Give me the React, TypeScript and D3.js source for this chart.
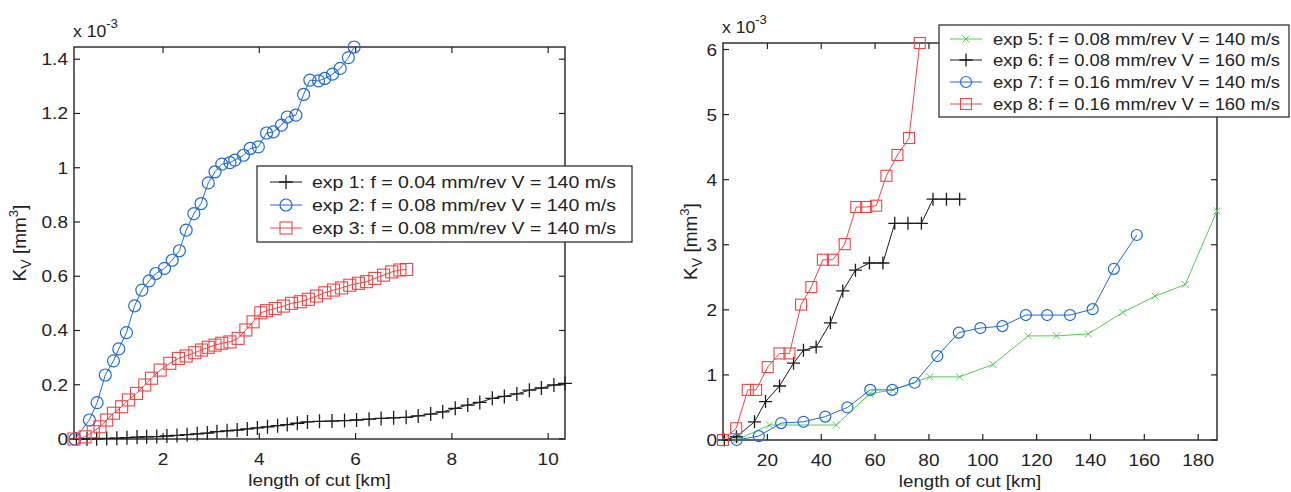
import React from 'react';
import * as d3 from 'd3';

// ---- Left panel: wear volume vs length of cut (units of 1e-3 mm^3) ----
const exp1X = [0.2, 0.42, 0.62, 0.83, 1.04, 1.25, 1.46, 1.66, 1.87, 2.08, 2.29, 2.5, 2.71, 2.92, 3.12, 3.33, 3.54, 3.75, 3.96, 4.17, 4.38, 4.58, 4.79, 5.0, 5.25, 5.51, 5.77, 6.02, 6.28, 6.53, 6.79, 7.05, 7.3, 7.56, 7.81, 8.07, 8.33, 8.58, 8.84, 9.09, 9.35, 9.61, 9.86, 10.12, 10.35];
const exp1Y = [0, 0, 0.001, 0.002, 0.003, 0.005, 0.007, 0.008, 0.009, 0.011, 0.013, 0.016, 0.019, 0.022, 0.027, 0.03, 0.033, 0.037, 0.041, 0.045, 0.049, 0.053, 0.058, 0.063, 0.065, 0.066, 0.068, 0.07, 0.073, 0.076, 0.078, 0.08, 0.085, 0.092, 0.1, 0.113, 0.125, 0.135, 0.15, 0.157, 0.166, 0.18, 0.188, 0.199, 0.205];

const exp2X = [0.17, 0.47, 0.63, 0.8, 0.97, 1.08, 1.24, 1.41, 1.56, 1.71, 1.85, 2.03, 2.19, 2.34, 2.48, 2.64, 2.79, 2.94, 3.08, 3.22, 3.39, 3.49, 3.67, 3.81, 3.98, 4.15, 4.29, 4.46, 4.58, 4.76, 4.92, 5.05, 5.23, 5.36, 5.52, 5.68, 5.85, 5.97];
const exp2Y = [0, 0.07, 0.134, 0.236, 0.288, 0.332, 0.392, 0.491, 0.549, 0.583, 0.61, 0.629, 0.659, 0.694, 0.77, 0.831, 0.868, 0.944, 0.985, 1.013, 1.019, 1.028, 1.046, 1.071, 1.077, 1.128, 1.132, 1.157, 1.187, 1.194, 1.27, 1.323, 1.32, 1.329, 1.345, 1.366, 1.406, 1.445];

const exp3X = [0.15, 0.38, 0.55, 0.69, 0.83, 0.97, 1.14, 1.28, 1.45, 1.62, 1.76, 1.94, 2.14, 2.32, 2.48, 2.66, 2.8, 2.94, 3.08, 3.22, 3.39, 3.56, 3.72, 3.87, 4.03, 4.15, 4.33, 4.5, 4.67, 4.85, 5.02, 5.19, 5.36, 5.54, 5.71, 5.88, 6.06, 6.23, 6.4, 6.58, 6.75, 6.92, 7.06];
const exp3Y = [0, 0.008, 0.027, 0.045, 0.07, 0.095, 0.119, 0.144, 0.168, 0.199, 0.224, 0.254, 0.279, 0.297, 0.306, 0.318, 0.328, 0.338, 0.346, 0.353, 0.358, 0.371, 0.402, 0.432, 0.465, 0.473, 0.481, 0.49, 0.5, 0.506, 0.515, 0.527, 0.539, 0.549, 0.557, 0.567, 0.574, 0.58, 0.592, 0.604, 0.616, 0.623, 0.625];

// ---- Right panel ----
const exp5X = [8.4, 20.8, 45.6, 58.0, 66.6, 80.3, 91.4, 103.8, 116.9, 127.4, 139.2, 152.0, 164.0, 175.2, 187.0];
const exp5Y = [0, 0.23, 0.23, 0.71, 0.77, 0.97, 0.97, 1.16, 1.6, 1.6, 1.63, 1.96, 2.21, 2.39, 3.52];

const exp6X = [4.0, 8.5, 15.2, 19.3, 24.5, 29.7, 33.4, 38.1, 43.4, 48.0, 52.7, 57.9, 62.9, 67.3, 72.2, 77.2, 81.5, 86.5, 91.4];
const exp6Y = [0, 0.05, 0.28, 0.59, 0.83, 1.18, 1.38, 1.43, 1.8, 2.29, 2.61, 2.72, 2.72, 3.33, 3.33, 3.33, 3.7, 3.7, 3.7];

const exp7X = [8.6, 16.8, 25.1, 33.4, 41.5, 49.7, 58.2, 66.4, 74.7, 83.1, 91.1, 99.1, 107.3, 116.0, 123.9, 132.4, 140.8, 148.7, 157.2];
const exp7Y = [0, 0.06, 0.26, 0.28, 0.36, 0.5, 0.77, 0.77, 0.88, 1.29, 1.65, 1.72, 1.75, 1.92, 1.92, 1.92, 2.01, 2.63, 3.15];

const exp8X = [3.5, 8.4, 12.7, 15.8, 20.1, 24.5, 28.2, 32.5, 36.3, 40.6, 44.3, 48.7, 53.0, 56.7, 60.4, 64.2, 68.3, 72.6, 76.6];
const exp8Y = [0, 0.18, 0.77, 0.77, 1.12, 1.33, 1.33, 2.08, 2.35, 2.77, 2.77, 3.01, 3.58, 3.58, 3.6, 4.06, 4.38, 4.64, 6.1];

// ---- Tick values / labels ----
const leftXTicks = [2, 4, 6, 8, 10];
const leftYTicks = [0, 0.2, 0.4, 0.6, 0.8, 1, 1.2, 1.4];
const rightXTicks = [20, 40, 60, 80, 100, 120, 140, 160, 180];
const rightYTicks = [0, 1, 2, 3, 4, 5, 6];

const leftLabels = [
  'exp 1: f = 0.04 mm/rev V = 140 m/s',
  'exp 2: f = 0.08 mm/rev V = 140 m/s',
  'exp 3: f = 0.08 mm/rev V = 140 m/s',
];
const rightLabels = [
  'exp 5: f = 0.08 mm/rev V = 140 m/s',
  'exp 6: f = 0.08 mm/rev V = 160 m/s',
  'exp 7: f = 0.16 mm/rev V = 140 m/s',
  'exp 8: f = 0.16 mm/rev V = 160 m/s',
];

const FONT = "'Liberation Sans', Arial, Helvetica, sans-serif";
const BLACK = '#1c1c1c';
const BLUE = '#1f6ad8';
const RED = '#f04444';
const GREEN = '#55cc55';
const AXIS = '#222';

type Kind = 'plus' | 'circle' | 'square' | 'x';
interface Series {
  label: string;
  xs: number[];
  ys: number[];
  color: string;
  kind: Kind;
  size: number;
}

function Marker({ kind, x, y, color, s }: { kind: Kind; x: number; y: number; color: string; s: number }) {
  if (kind === 'plus')
    return <path d={`M${x - s},${y}H${x + s}M${x},${y - s}V${y + s}`} stroke={color} strokeWidth={1.3} fill="none" />;
  if (kind === 'circle') return <circle cx={x} cy={y} r={s} stroke={color} strokeWidth={1.2} fill="none" />;
  if (kind === 'square')
    return <rect x={x - s} y={y - s} width={2 * s} height={2 * s} stroke={color} strokeWidth={1.1} fill="none" />;
  return (
    <path d={`M${x - s},${y - s}L${x + s},${y + s}M${x - s},${y + s}L${x + s},${y - s}`} stroke={color} strokeWidth={1} fill="none" />
  );
}

function STxt({ x, y, children, anchor = 'start', size = 17, sx = 1.12 }: any) {
  return (
    <text transform={`translate(${x},${y}) scale(${sx},1)`} textAnchor={anchor} fontSize={size} fill={AXIS} fontFamily={FONT}>
      {children}
    </text>
  );
}

interface PanelProps {
  box: { left: number; top: number; right: number; bottom: number };
  series: Series[];
  xTicks: number[];
  yTicks: number[];
  legend: { x: number; y: number; w: number; h: number; rowY: number[]; lineX: [number, number]; textX: number; textLen: number };
  ylabelX: number;
}

function Panel({ box, series, xTicks, yTicks, legend, ylabelX }: PanelProps) {
  const allX = series.flatMap((s) => s.xs);
  const allY = series.flatMap((s) => s.ys);
  const x = d3.scaleLinear().domain(d3.extent(allX) as [number, number]).range([box.left, box.right]);
  const y = d3.scaleLinear().domain([0, d3.max(allY) as number]).range([box.bottom, box.top]);
  const line = d3
    .line<[number, number]>()
    .x((d) => x(d[0]))
    .y((d) => y(d[1]));
  const tl = 6;
  const cx = (box.left + box.right) / 2;
  const cy = (box.top + box.bottom) / 2;
  return (
    <g>
      {/* axes box with inward ticks on all four sides */}
      <rect x={box.left} y={box.top} width={box.right - box.left} height={box.bottom - box.top} fill="none" stroke={AXIS} strokeWidth={1.4} />
      {xTicks.map((t) => (
        <g key={'xt' + t}>
          <line x1={x(t)} x2={x(t)} y1={box.bottom} y2={box.bottom - tl} stroke={AXIS} strokeWidth={1.2} />
          <line x1={x(t)} x2={x(t)} y1={box.top} y2={box.top + tl} stroke={AXIS} strokeWidth={1.2} />
          <STxt x={x(t)} y={box.bottom + 26} anchor="middle">{String(t)}</STxt>
        </g>
      ))}
      {yTicks.map((t) => (
        <g key={'yt' + t}>
          <line x1={box.left} x2={box.left + tl} y1={y(t)} y2={y(t)} stroke={AXIS} strokeWidth={1.2} />
          <line x1={box.right} x2={box.right - tl} y1={y(t)} y2={y(t)} stroke={AXIS} strokeWidth={1.2} />
          <STxt x={box.left - 6} y={y(t) + 6} anchor="end">{String(t)}</STxt>
        </g>
      ))}
      {/* exponent multiplier */}
      <text transform={`translate(${box.left - 1},${box.top - 10}) scale(1.1,1)`} fontSize={16} fill={AXIS} fontFamily={FONT}>
        x 10<tspan dy={-9} fontSize={12}>-3</tspan>
      </text>
      {/* axis labels */}
      <STxt x={cx} y={box.bottom + 47} anchor="middle" size={17} sx={1.1}>length of cut [km]</STxt>
      <text transform={`translate(${ylabelX},${cy}) rotate(-90)`} textAnchor="middle" fontSize={19} fill={AXIS} fontFamily={FONT}>
        K<tspan dy={5} fontSize={14}>V</tspan>
        <tspan dy={-5}> [mm</tspan>
        <tspan dy={-8} fontSize={13}>3</tspan>
        <tspan dy={8}>]</tspan>
      </text>
      {/* data series */}
      {series.map((s, si) => {
        const pts = s.xs.map((v, i) => [v, s.ys[i]] as [number, number]);
        return (
          <g key={'s' + si}>
            <path d={line(pts) || ''} fill="none" stroke={s.color} strokeWidth={1} />
            {pts.map((p, i) => (
              <Marker key={i} kind={s.kind} x={x(p[0])} y={y(p[1])} color={s.color} s={s.size} />
            ))}
          </g>
        );
      })}
      {/* legend */}
      <rect x={legend.x} y={legend.y} width={legend.w} height={legend.h} fill="#fff" stroke={AXIS} strokeWidth={1.2} />
      {series.map((s, i) => {
        const ry = legend.rowY[i];
        const mx = (legend.lineX[0] + legend.lineX[1]) / 2;
        return (
          <g key={'lg' + i}>
            <line x1={legend.lineX[0]} x2={legend.lineX[1]} y1={ry} y2={ry} stroke={s.color} strokeWidth={1} />
            <Marker kind={s.kind} x={mx} y={ry} color={s.color} s={s.size} />
            <text
              x={legend.textX}
              y={ry + 6}
              fontSize={17}
              fill={AXIS}
              fontFamily={FONT}
              textLength={legend.textLen}
              lengthAdjust="spacingAndGlyphs"
            >
              {s.label}
            </text>
          </g>
        );
      })}
    </g>
  );
}

const leftSeries: Series[] = [
  { label: leftLabels[0], xs: exp1X, ys: exp1Y, color: BLACK, kind: 'plus', size: 7 },
  { label: leftLabels[1], xs: exp2X, ys: exp2Y, color: BLUE, kind: 'circle', size: 6 },
  { label: leftLabels[2], xs: exp3X, ys: exp3Y, color: RED, kind: 'square', size: 6 },
];
const rightSeries: Series[] = [
  { label: rightLabels[0], xs: exp5X, ys: exp5Y, color: GREEN, kind: 'x', size: 3.5 },
  { label: rightLabels[1], xs: exp6X, ys: exp6Y, color: BLACK, kind: 'plus', size: 6.5 },
  { label: rightLabels[2], xs: exp7X, ys: exp7Y, color: BLUE, kind: 'circle', size: 5.5 },
  { label: rightLabels[3], xs: exp8X, ys: exp8Y, color: RED, kind: 'square', size: 5.5 },
];

export default function App() {
  return (
    <svg
      width={1291}
      height={492}
      style={{ position: 'absolute', left: 0, top: 0, background: '#fff' }}
      xmlns="http://www.w3.org/2000/svg"
    >
      <rect width={1291} height={492} fill="#fff" />
      <Panel
        box={{ left: 74, top: 47, right: 565, bottom: 439 }}
        series={leftSeries}
        xTicks={leftXTicks}
        yTicks={leftYTicks}
        legend={{ x: 257, y: 166, w: 375, h: 76, rowY: [182, 205, 228], lineX: [270, 302], textX: 312, textLen: 304 }}
        ylabelX={26}
      />
      <Panel
        box={{ left: 723, top: 43, right: 1217, bottom: 440 }}
        series={rightSeries}
        xTicks={rightXTicks}
        yTicks={rightYTicks}
        legend={{ x: 939, y: 25, w: 350, h: 92, rowY: [39, 60, 82, 104], lineX: [950, 982], textX: 993, textLen: 287 }}
        ylabelX={697}
      />
    </svg>
  );
}
